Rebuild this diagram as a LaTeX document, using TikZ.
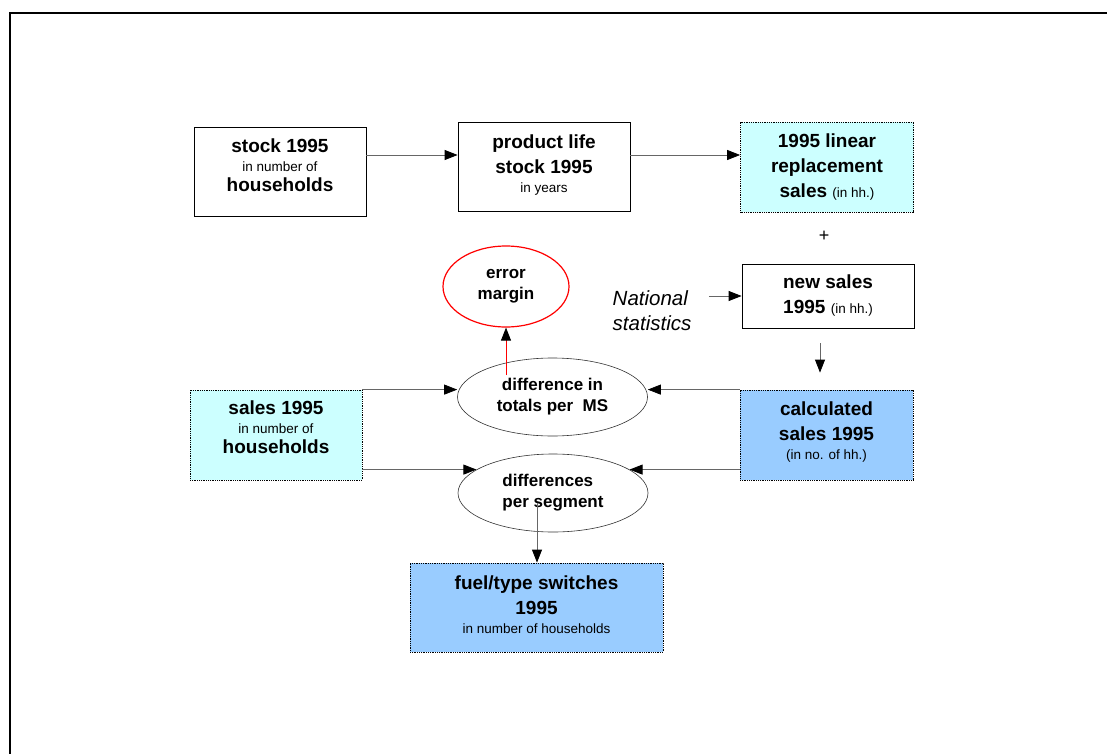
\documentclass[tikz,border=0pt]{standalone}
\usepackage{fontspec}
\setmainfont{Liberation Sans}
\usepackage{tikz}
\usetikzlibrary{positioning, arrows.meta, shapes.geometric}

\definecolor{paleaqua}{HTML}{CCFFFF}
\definecolor{paleblue}{HTML}{99CCFF}

\newcommand{\subtext}[1]{{\mdseries\fontsize{13.5}{17}\selectfont #1}}

\begin{document}
\begin{tikzpicture}[
        x=1pt, y=-1pt,
        box/.style={
            draw,
            rectangle,
            minimum height=89pt,
            minimum width=172pt,
            align=center,
            inner sep=2pt,
            line width=0.8pt,
            font=\fontsize{19}{25}\selectfont\bfseries
        },
        datbox/.style={box, densely dotted, fill=paleaqua},
        resbox/.style={box, densely dotted, fill=paleblue},
        lift/.style={text depth=#1},
        oval/.style={
            draw=black!80,
            ellipse,
            minimum width=190pt,
            minimum height=78pt,
            inner sep=0pt,
            align=center,
            line width=0.6pt,
            font=\fontsize{17}{21}\selectfont\bfseries
        },
        arrow/.style={-{Triangle[length=13pt,width=10pt,color=black]}, draw=black!60, line width=0.8pt}
    ]

        \useasboundingbox (0,0) rectangle (1107,754);
        \draw[line width=2pt] (1120,13) -- (10,13) -- (10,770);

        \node[box, lift=13pt] (stock) at (280,171.5) {stock 1995\\[-6pt] \subtext{in number of}\\[-5pt] households};
        
        \node[box, lift=6pt] (life) at (544,166.5) {product life\\ stock 1995\\[-6pt] \subtext{in years}};
        
        \node[datbox, minimum width=173pt, minimum height=90pt] (linear) at (827,167)
            {1995 linear\\ replacement\\ sales \subtext{(in hh.)}};
        
        \node[font=\fontsize{18}{20}\selectfont] (plus) at (824,236) {+};
        
        \node[box, minimum height=64pt] (newsales) at (828,296) {new sales\\ 1995 \subtext{(in hh.)}};
        
        \node[align=left, font=\fontsize{20.5}{25}\selectfont\itshape] (natstat) at (652,311) {National\\ statistics};
        
        \node[oval, draw=red, line width=1.2pt, minimum width=126pt, minimum height=81pt] (err) at (506,286.5) {error\\ margin};
        
        \node[oval] (diffT) at (552.5,397) {difference in\\ totals per~~MS};
        
        \node[datbox, minimum height=90pt, lift=16pt] (sales) at (276,435) {sales 1995\\[-6pt] \subtext{in number of}\\[-5pt] households};
        
        \node[resbox, minimum width=173pt, minimum height=90pt, lift=8pt] (calc) at (826.5,435)
            {calculated\\ sales 1995\\[-6pt] \subtext{(in no. of hh.)}};
        
        \node[oval, align=left] (diffS) at (553,493) {differences\\ per segment};
        
        \node[resbox, minimum width=253pt, lift=5pt] (fuel) at (536.5,607.5)
            {fuel/type switches\\ 1995\\[-6pt] \subtext{in number of households}};

        \coordinate (errfoot) at (506,375);
        \coordinate (segfoot) at (537,503);

        \draw[arrow] (stock.east |- 0,155) -- (life.west |- 0,155);
        \draw[arrow] (life.east |- 0,155) -- (linear.west |- 0,155);
        \draw[arrow, shorten <=14pt] (natstat.east |- newsales.west) -- (newsales.west);
        \draw[arrow, shorten <=15pt, shorten >=17pt] ([xshift=-8pt]newsales.south) -- ([xshift=-6.5pt]calc.north);
        \draw[arrow, red] (errfoot) -- (err);
        \draw[arrow] (sales.north east) -- (diffT.west |- sales.north east);
        \draw[arrow] (sales.east |- diffS.163) -- (diffS.163);
        \draw[arrow] (calc.north west) -- (diffT.east |- calc.north west);
        \draw[arrow] (calc.west |- diffS.17) -- (diffS.17);
        \draw[arrow] (segfoot) -- (segfoot |- fuel.north);

    \end{tikzpicture}
\end{document}
